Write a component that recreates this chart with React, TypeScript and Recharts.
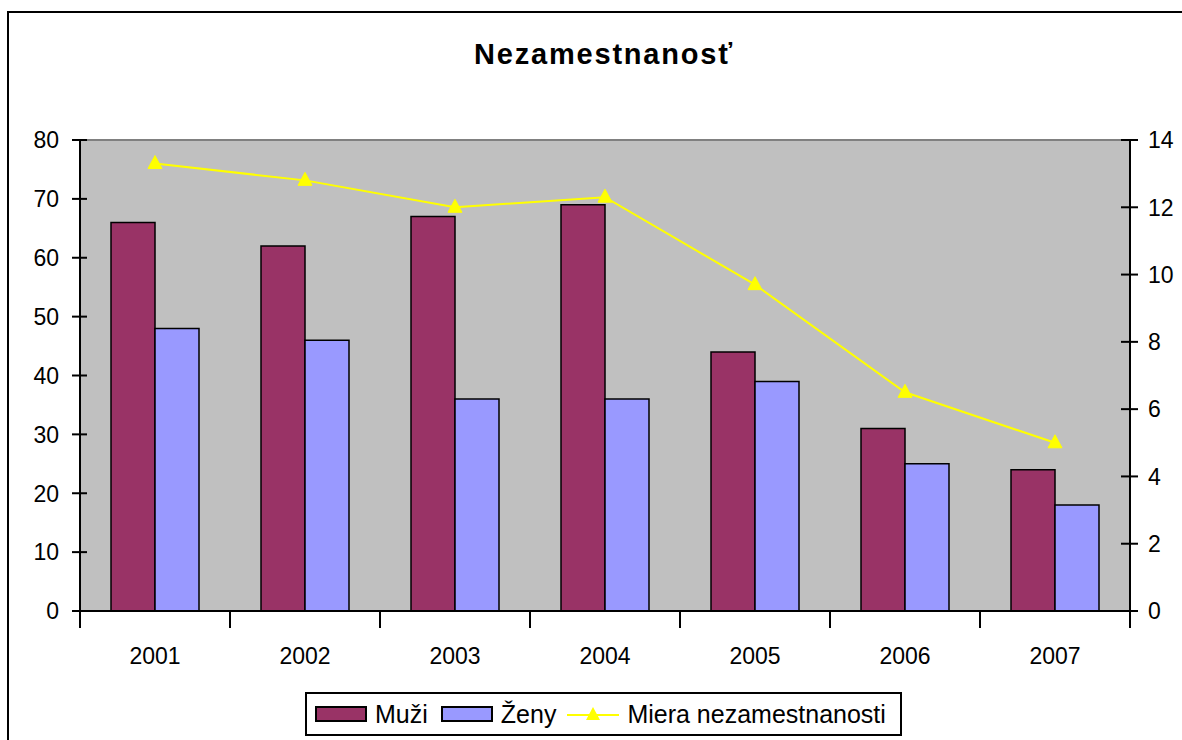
import React from 'react';
import { ComposedChart, Bar, Line, XAxis, YAxis, CartesianGrid, Legend, ReferenceLine } from 'recharts';

const years = ['2001', '2002', '2003', '2004', '2005', '2006', '2007'];
const muzi = [66, 62, 67, 69, 44, 31, 24];
const zeny = [48, 46, 36, 36, 39, 25, 18];
const miera = [13.3, 12.8, 12.0, 12.3, 9.7, 6.5, 5.0];
const leftTicks = [0, 10, 20, 30, 40, 50, 60, 70, 80];
const rightTicks = [0, 2, 4, 6, 8, 10, 12, 14];

const data = years.map((y, i) => ({ year: y, muzi: muzi[i], zeny: zeny[i], miera: miera[i] }));

const FONT = '"Liberation Sans", Arial, sans-serif';
const W = 1182;
const H = 740;
const PLOT_LEFT = 80;
const PLOT_RIGHT = 1130;
const HALF_BAND = (PLOT_RIGHT - PLOT_LEFT) / years.length / 2;
const TICK_FS = 23;

const LeftTick = (props: any) => {
  const { x, y, payload } = props;
  return (
    <g>
      <line x1={x - 8} x2={x + 7} y1={y} y2={y} stroke="#000" strokeWidth={2} />
      <text x={x - 21} y={y} dy="0.36em" textAnchor="end" fontSize={TICK_FS} fontFamily={FONT} fill="#000">
        {payload.value}
      </text>
    </g>
  );
};

const RightTick = (props: any) => {
  const { x, y, payload } = props;
  return (
    <g>
      <line x1={x - 9} x2={x + 8} y1={y} y2={y} stroke="#000" strokeWidth={2} />
      <text x={x + 18} y={y} dy="0.36em" textAnchor="start" fontSize={TICK_FS} fontFamily={FONT} fill="#000">
        {payload.value}
      </text>
    </g>
  );
};

const BottomTick = (props: any) => {
  const { x, y, payload, index } = props;
  return (
    <g>
      {index === 0 && (
        <line x1={x - HALF_BAND} x2={x - HALF_BAND} y1={y - 7} y2={y + 9} stroke="#000" strokeWidth={2} />
      )}
      <line x1={x + HALF_BAND} x2={x + HALF_BAND} y1={y - 7} y2={y + 9} stroke="#000" strokeWidth={2} />
      <text x={x} y={y + 37} dy="0.36em" textAnchor="middle" fontSize={TICK_FS} fontFamily={FONT} fill="#000">
        {payload.value}
      </text>
    </g>
  );
};

const Triangle = (props: any) => {
  const { cx, cy } = props;
  if (cx == null || cy == null) return null;
  return <polygon points={`${cx},${cy - 8} ${cx - 7},${cy + 5} ${cx + 7},${cy + 5}`} fill="#FFFF00" stroke="#FFFF00" />;
};

const swatch = (color: string) => (
  <span
    style={{
      display: 'inline-block',
      width: 48,
      height: 12,
      background: color,
      border: '2px solid #000',
    }}
  />
);

const renderLegend = () => (
  <div
    style={{
      display: 'flex',
      alignItems: 'center',
      border: '2px solid #000',
      background: '#fff',
      height: 44,
      padding: '0 14px 0 8px',
      fontFamily: FONT,
      fontSize: 25,
      color: '#000',
      whiteSpace: 'nowrap',
      boxSizing: 'border-box',
    }}
  >
    {swatch('#993366')}
    <span style={{ marginLeft: 8, marginRight: 13 }}>Muži</span>
    {swatch('#9999FF')}
    <span style={{ marginLeft: 8, marginRight: 11 }}>Ženy</span>
    <svg width={52} height={20} style={{ display: 'inline-block' }}>
      <line x1={0} x2={52} y1={11} y2={11} stroke="#FFFF00" strokeWidth={2} />
      <polygon points="26,3 19,16 33,16" fill="#FFFF00" />
    </svg>
    <span style={{ marginLeft: 8 }}>Miera nezamestnanosti</span>
  </div>
);

export default function App() {
  return (
    <div style={{ position: 'absolute', left: 0, top: 0, width: W, height: H, background: '#fff', overflow: 'hidden' }}>
      <div
        style={{
          position: 'absolute',
          left: 7,
          top: 11,
          width: W,
          height: H,
          borderLeft: '2px solid #000',
          borderTop: '2px solid #000',
        }}
      />
      <div
        style={{
          position: 'absolute',
          left: 0,
          width: 1208,
          top: 38,
          textAlign: 'center',
          fontFamily: FONT,
          fontWeight: 'bold',
          fontSize: 29,
          letterSpacing: 1.8,
          color: '#000',
        }}
      >
        Nezamestnanosť
      </div>
      <div style={{ position: 'absolute', left: 0, top: 0 }}>
        <ComposedChart
          width={W}
          height={H}
          data={data}
          margin={{ top: 140, right: 12, bottom: 69, left: 20 }}
          barGap={0}
        >
          <CartesianGrid fill="#C0C0C0" horizontal={false} vertical={false} />
          <XAxis
            dataKey="year"
            height={60}
            axisLine={{ stroke: '#000', strokeWidth: 2 }}
            tickLine={false}
            tick={<BottomTick />}
            interval={0}
          />
          <YAxis
            yAxisId="left"
            orientation="left"
            width={60}
            domain={[0, 80]}
            ticks={leftTicks}
            axisLine={{ stroke: '#000', strokeWidth: 2 }}
            tickLine={false}
            tickSize={0}
            tickMargin={0}
            tick={<LeftTick />}
            interval={0}
          />
          <YAxis
            yAxisId="right"
            orientation="right"
            width={40}
            domain={[0, 14]}
            ticks={rightTicks}
            axisLine={{ stroke: '#000', strokeWidth: 2 }}
            tickLine={false}
            tickSize={0}
            tickMargin={0}
            tick={<RightTick />}
            interval={0}
          />
          <ReferenceLine yAxisId="left" y={80} stroke="#808080" strokeWidth={2} />
          <Bar yAxisId="left" dataKey="muzi" name="Muži" fill="#993366" stroke="#000" strokeWidth={1.5} barSize={44} isAnimationActive={false} />
          <Bar yAxisId="left" dataKey="zeny" name="Ženy" fill="#9999FF" stroke="#000" strokeWidth={1.5} barSize={44} isAnimationActive={false} />
          <Line
            yAxisId="right"
            dataKey="miera"
            name="Miera nezamestnanosti"
            stroke="#FFFF00"
            strokeWidth={2}
            dot={<Triangle />}
            activeDot={false}
            isAnimationActive={false}
          />
          <Legend
            layout="horizontal"
            verticalAlign="middle"
            align="center"
            content={renderLegend}
            wrapperStyle={{ position: 'absolute', left: 305, top: 692, width: 'auto', height: 'auto' }}
          />
        </ComposedChart>
      </div>
    </div>
  );
}
